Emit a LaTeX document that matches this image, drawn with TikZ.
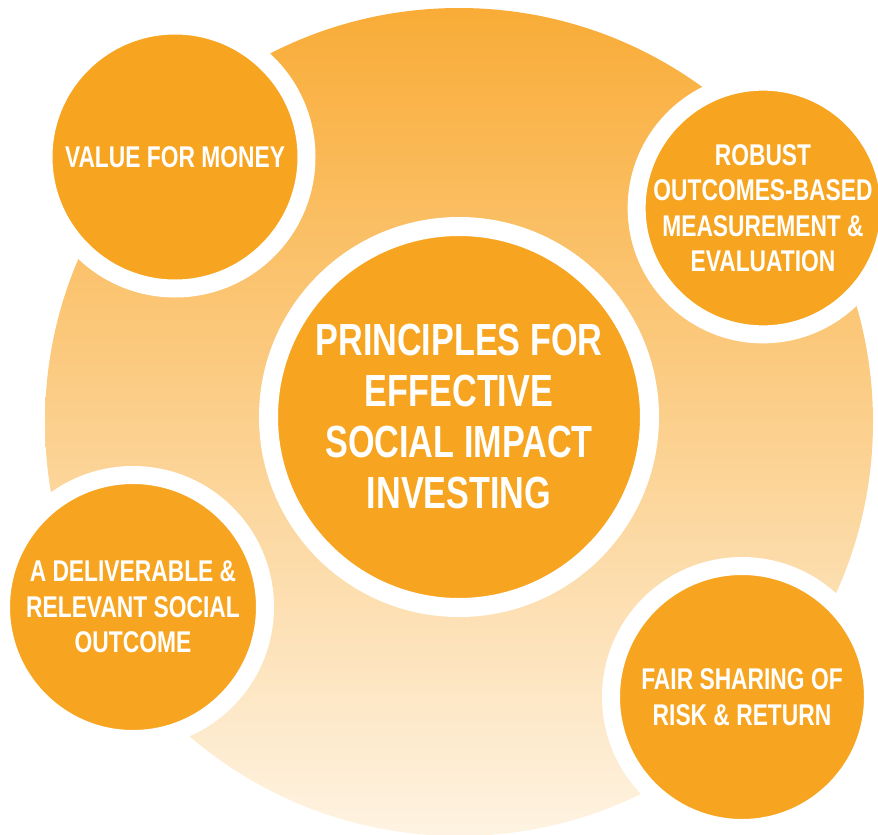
\documentclass[tikz,border=0pt]{standalone}
\usepackage{fontspec}
\setmainfont{Liberation Sans}[FakeStretch=0.76]
\usetikzlibrary{positioning}
\definecolor{ringorange}{RGB}{247,165,32}
\definecolor{bgtop}{RGB}{249,172,55}
\definecolor{bgmid}{RGB}{254,202,125}
\definecolor{bgbot}{RGB}{254,243,226}
\tikzset{bubble/.style={circle,fill=ringorange,draw=white,line width=18pt,inner sep=0pt,align=center,text=white,font=\bfseries\fontsize{30}{35.5}\selectfont}}
\tikzset{hub/.style={bubble,line width=19pt,font=\bfseries\fontsize{45}{51}\selectfont}}

\begin{document}
\begin{tikzpicture}[x=1pt,y=-1pt]
        \useasboundingbox (0,0) rectangle (878,835);
        \shade[top color=bgtop, middle color=bgmid, bottom color=bgbot] (459,422) circle[radius=414pt];

        \node[bubble, minimum size=263pt] (V) at (175,157) {VALUE FOR MONEY};
        \node[bubble, minimum size=252pt] (R) at (763,208) {ROBUST\\OUTCOMES-BASED\\MEASUREMENT \&\\EVALUATION};
        \node[bubble, minimum size=264pt] (D) at (133,607) {A DELIVERABLE \&\\RELEVANT SOCIAL\\OUTCOME};
        \node[bubble, minimum size=262pt] (F) at (742,697) {FAIR SHARING OF\\RISK \& RETURN};
        \node[hub, minimum size=381pt] (P) at (459,417) {PRINCIPLES FOR\\EFFECTIVE\\SOCIAL IMPACT\\INVESTING};
    \end{tikzpicture}
\end{document}
